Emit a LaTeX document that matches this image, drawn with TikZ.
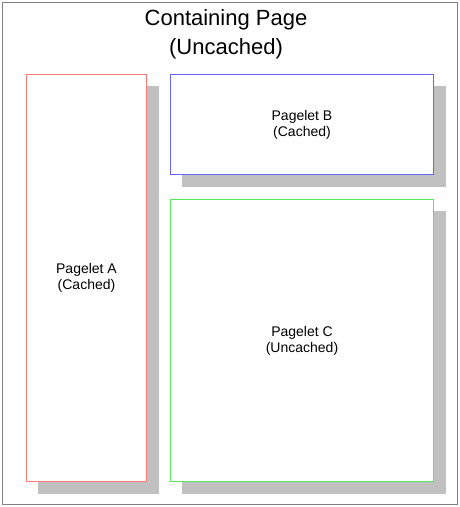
\documentclass[tikz,border=0pt]{standalone}
\usepackage{fontspec}
\setmainfont{Liberation Sans}
\usetikzlibrary{positioning,backgrounds}
\definecolor{shadowgray}{RGB}{192,192,192}
\definecolor{framegray}{RGB}{128,128,128}
\definecolor{cachedred}{RGB}{255,120,120}
\definecolor{cachedblue}{RGB}{100,100,255}
\definecolor{uncachedgreen}{RGB}{90,230,90}
\tikzset{pagelet node/.style={rectangle,draw,line width=1pt,fill=white,inner sep=0pt,align=center,
    font=\fontsize{14}{16}\selectfont},
  pagelet shadow/.style={fill=shadowgray} }

\begin{document}
\begin{tikzpicture}[x=1pt,y=-1pt]
  \useasboundingbox (0,0) rectangle (459,507);

  \node[rectangle,draw=framegray,line width=1pt,minimum width=455pt,minimum height=502pt] (page) at (230,253.5) {};
  \node[align=center,font=\fontsize{22}{29}\selectfont] (title) at (226,34) {Containing Page\\(Uncached)};

  \node[pagelet node,draw=cachedred,minimum width=120pt,minimum height=407pt] (A) at (86.5,278) {Pagelet A\\(Cached)};
  \node[pagelet node,draw=cachedblue,minimum width=263pt,minimum height=100pt] (B) at (302,124.5) {Pagelet B\\(Cached)};
  \node[pagelet node,draw=uncachedgreen,minimum width=263pt,minimum height=282pt] (C) at (302,340.5) {Pagelet C\\(Uncached)};

  % shadows behind the pagelets
  \begin{scope}[on background layer]
    \foreach \p in {A,B,C}
      \fill[pagelet shadow] ([shift={(12,12)}]\p.north west) rectangle ([shift={(12,12)}]\p.south east);
  \end{scope}
\end{tikzpicture}
\end{document}
